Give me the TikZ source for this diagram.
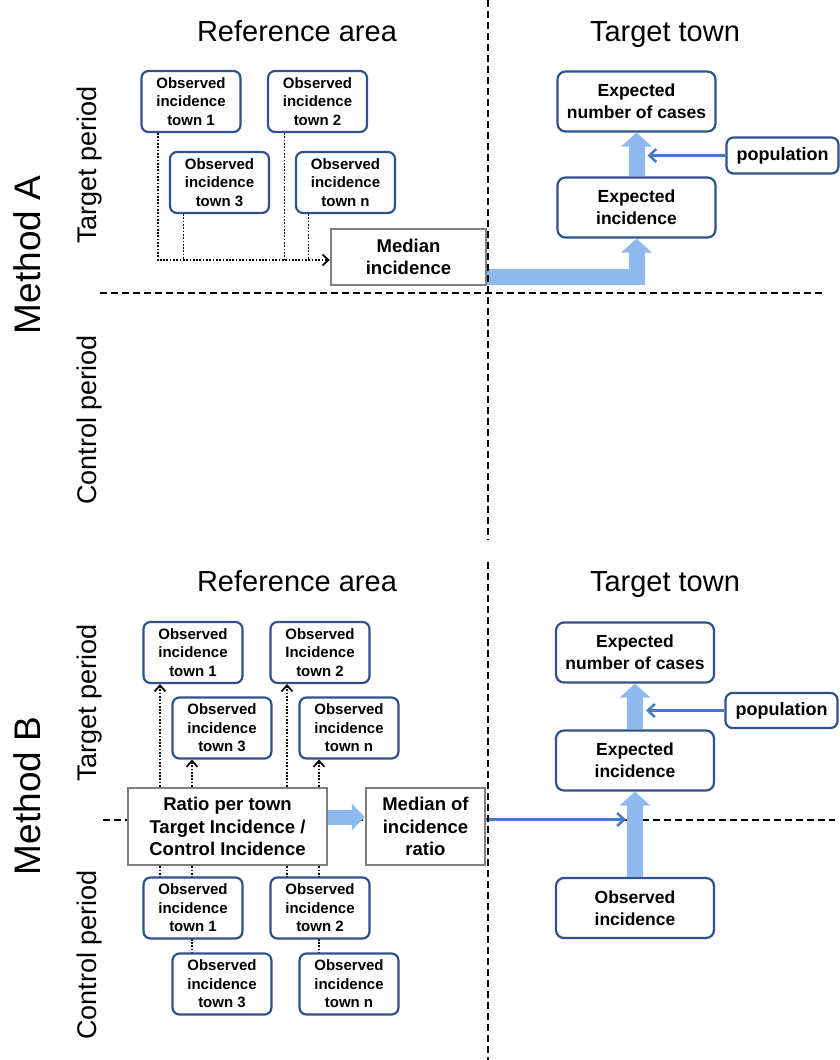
\documentclass[tikz,border=0pt]{standalone}
\usepackage{fontspec}
\setmainfont{Liberation Sans}
\usetikzlibrary{arrows.meta,calc}
\pgfdeclarelayer{bg}
\pgfdeclarelayer{paper}
\pgfsetlayers{paper,bg,main}
\definecolor{boxblue}{RGB}{47,82,143}
\definecolor{bandblue}{RGB}{142,186,240}
\definecolor{lineblue}{RGB}{70,122,196}
\definecolor{boxgray}{RGB}{128,128,128}
\begin{document}
\begin{tikzpicture}[x=1pt,y=1pt,
  obsbox/.style={draw=boxblue, line width=2.2pt, rounded corners=7pt, fill=white,
    minimum width=99pt, minimum height=61pt, inner sep=0pt, align=center,
    font=\fontsize{15}{18.5}\selectfont\bfseries},
  bigbox/.style={draw=boxblue, line width=2.2pt, rounded corners=8pt, fill=white,
    minimum width=158pt, minimum height=60pt, inner sep=0pt, align=center,
    font=\fontsize{17.5}{22}\selectfont\bfseries},
  popbox/.style={draw=boxblue, line width=2.2pt, rounded corners=7pt, fill=white,
    minimum width=112pt, minimum height=36pt, inner sep=0pt, align=center,
    font=\fontsize{18}{21}\selectfont\bfseries},
  graybox/.style={draw=boxgray, line width=2.5pt, fill=white, inner sep=0pt,
    align=center, font=\fontsize{18.5}{22.5}\selectfont\bfseries},
  band/.style={draw=bandblue, line width=16pt, line join=miter,
    -{Triangle[width=30pt,length=14pt]}},
  thinarrow/.style={draw=lineblue, line width=2.5pt,
    -{Straight Barb[length=7pt,width=13pt]}},
  dotline/.style={line width=1.7pt, dash pattern=on 1.7pt off 1.6pt},
  dotarrow/.style={dotline, -{Straight Barb[length=6pt,width=11pt]}},
  divider/.style={line width=2pt, dash pattern=on 7pt off 4pt},
  header/.style={font=\fontsize{29}{34}\selectfont, anchor=base},
  period/.style={font=\fontsize{27}{32}\selectfont, rotate=90},
  method/.style={font=\fontsize{37}{44}\selectfont, rotate=90}
]
\begin{pgfonlayer}{paper}
  \fill[white] (0,0) rectangle (840,-1060);
\end{pgfonlayer}
\useasboundingbox (0,0) rectangle (840,-1060);

% ---------------- Method A ----------------
\node[header] (hA1) at (297,-41) {Reference area};
\node[header] (hA2) at (665,-41) {Target town};
\node[method] (mlA) at (27,-255) {Method A};
\node[period] (tpA) at (90,-165) {Target period};
\node[period] (cpA) at (90,-420) {Control period};

\node[obsbox] (a1) at (191,-101.5) {Observed\\incidence\\town 1};
\node[obsbox] (a2) at (317.5,-101.5) {Observed\\incidence\\town 2};
\node[obsbox] (a3) at (219.5,-182.5) {Observed\\incidence\\town 3};
\node[obsbox] (an) at (345.5,-182.5) {Observed\\incidence\\town n};
\node[graybox, minimum width=155pt, minimum height=56pt] (mA) at (408.5,-257) {Median\\incidence};

\node[bigbox] (nA) at (636.5,-101.5) {Expected\\number of cases};
\node[bigbox] (eA) at (636.5,-207.5) {Expected\\incidence};
\node[popbox] (pA) at (782.5,-155.5) {population};

\coordinate (jA) at ([yshift=-3pt]mA.west);
\coordinate (da1) at ([xshift=-33pt]a1.south);
\coordinate (da3) at ([xshift=-36pt]a3.south);
\coordinate (da2) at ([xshift=-33pt]a2.south);
\coordinate (dan) at ([xshift=-37pt]an.south);

\begin{pgfonlayer}{bg}
  \draw[divider] (100,-293) -- (822,-293);
  \draw[dotarrow] (da1) |- (jA);
  \draw[dotline] (da3) -- (da3 |- jA);
  \draw[dotline] (da2) -- (da2 |- jA);
  \draw[dotline] (dan) -- (dan |- jA);
\end{pgfonlayer}

\draw[band] ([yshift=-19.5pt]mA.east) -| (eA.south);
\draw[band] (eA.north) -- (nA.south);
\draw[thinarrow] (pA.west) -- ($(eA.north |- pA.west)+(11,0)$);

% ---------------- Method B ----------------
\node[header] (hB1) at (297,-591) {Reference area};
\node[header] (hB2) at (665,-591) {Target town};
\node[method] (mlB) at (27,-796) {Method B};
\node[period] (tpB) at (90,-703) {Target period};
\node[period] (cpB) at (90,-955) {Control period};

\node[obsbox] (b1) at (193,-652.5) {Observed\\incidence\\town 1};
\node[obsbox] (b2) at (320,-652.5) {Observed\\Incidence\\town 2};
\node[obsbox] (b3) at (222,-728) {Observed\\incidence\\town 3};
\node[obsbox] (bn) at (349,-728) {Observed\\incidence\\town n};
\node[graybox, minimum width=199pt, minimum height=77pt] (rB) at (227.5,-826.5)
  {Ratio per town\\Target Incidence /\\Control Incidence};
\node[graybox, minimum width=119pt, minimum height=77pt] (mB) at (425.5,-826.5)
  {Median of\\incidence\\ratio};
\node[obsbox] (c1) at (193,-908) {Observed\\incidence\\town 1};
\node[obsbox] (c2) at (320,-908) {Observed\\incidence\\town 2};
\node[obsbox] (c3) at (222,-984) {Observed\\incidence\\town 3};
\node[obsbox] (cn) at (349,-984) {Observed\\incidence\\town n};

\node[bigbox] (nB) at (635,-652.5) {Expected\\number of cases};
\node[bigbox] (eB) at (635,-760.5) {Expected\\incidence};
\node[bigbox] (oB) at (635,-908) {Observed\\incidence};
\node[popbox, minimum height=35pt] (pB) at (781.5,-710.5) {population};

\coordinate (db1) at ([xshift=-33pt]b1.south);
\coordinate (db3) at ([xshift=-30pt]b3.south);
\coordinate (db2) at ([xshift=-33pt]b2.south);
\coordinate (dbn) at ([xshift=-30pt]bn.south);
\coordinate (dc1) at ([xshift=-33pt]c1.north);
\coordinate (dc3) at ([xshift=-30pt]c3.north);
\coordinate (dc2) at ([xshift=-33pt]c2.north);
\coordinate (dcn) at ([xshift=-30pt]cn.north);

\begin{pgfonlayer}{bg}
  \draw[divider] (103,-819.5) -- (835,-819.5);
  \draw[dotarrow] (db1 |- rB.north) -- (db1);
  \draw[dotarrow] (db3 |- rB.north) -- (db3);
  \draw[dotarrow] (db2 |- rB.north) -- (db2);
  \draw[dotarrow] (dbn |- rB.north) -- (dbn);
  \draw[dotline] (dc1 |- rB.south) -- (dc1);
  \draw[dotline] (dc3 |- rB.south) -- (dc3);
  \draw[dotline] (dc2 |- rB.south) -- (dc2);
  \draw[dotline] (dcn |- rB.south) -- (dcn);
\end{pgfonlayer}

\draw[band, line width=15pt, -{Triangle[width=26pt,length=13pt]}]
  ([yshift=9.5pt]rB.east) -- ([yshift=9.5pt]mB.west);
\draw[band] (oB.north) -- (eB.south);
\draw[band] (eB.north) -- (nB.south);
\draw[thinarrow] (pB.west) -- ($(eB.north |- pB.west)+(11,0)$);
\coordinate (jB) at ([yshift=7pt]mB.east);
\draw[thinarrow] (jB) -- ($(eB.south |- jB)+(-9,0)$);

% vertical divider
\draw[divider] (488,0) -- (488,-540);
\draw[divider] (488,-562) -- (488,-1060);
\end{tikzpicture}
\end{document}
